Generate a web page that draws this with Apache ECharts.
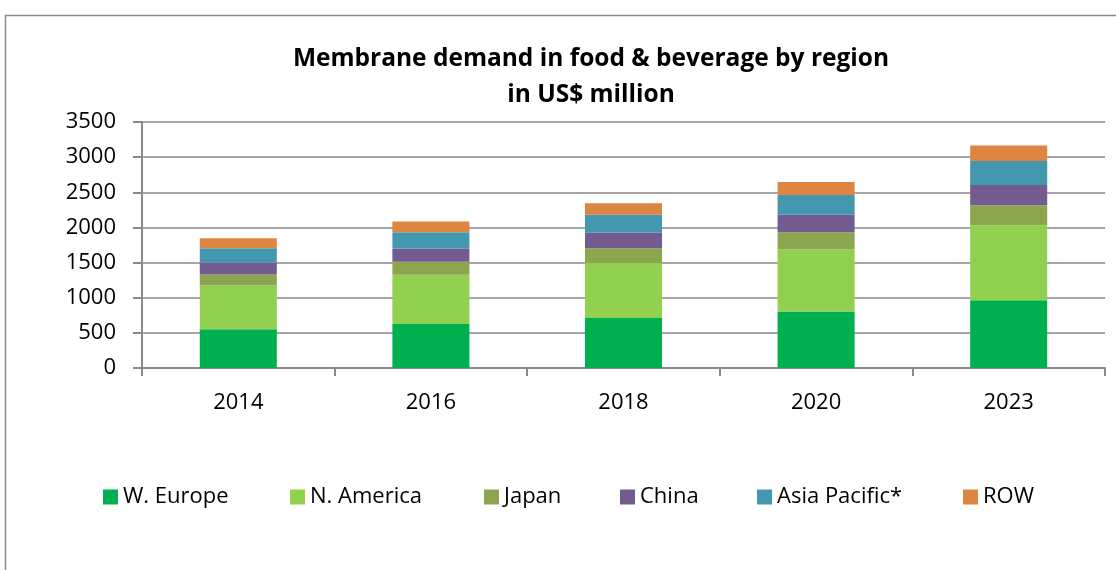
<!DOCTYPE html>
<html>
<head>
<meta charset="utf-8">
<script src="https://cdn.jsdelivr.net/npm/echarts@6/dist/echarts.min.js"></script>
<style>
  html, body { margin: 0; padding: 0; background: #fff; }
  #chart { width: 1116px; height: 570px; }
</style>
</head>
<body>
<div id="chart"></div>
<script>
// 数据
const years = ["2014", "2016", "2018", "2020", "2023"];
const regions = ["W. Europe", "N. America", "Japan", "China", "Asia Pacific*", "ROW"];
const wEurope = [550, 625, 710, 805, 965];
const nAmerica = [625, 700, 785, 885, 1065];
const japan = [155, 185, 210, 240, 285];
const china = [170, 190, 220, 250, 290];
const asiaPacific = [205, 230, 255, 280, 340];
const row = [140, 155, 165, 185, 220];

const values = [wEurope, nAmerica, japan, china, asiaPacific, row];
const colors = ["#00B050", "#92D050", "#8BA64E", "#735A8F", "#4398B0", "#DE8641"];
const legendLeft = [103, 290, 484, 620, 757, 963];

const font = "'Open Sans', 'Liberation Sans', sans-serif";
const gray = "#898989";

const options = {
  animation: false,
  textStyle: { fontFamily: font },
  graphic: [
    {
      type: "rect",
      shape: { x: 5.5, y: 15.5, width: 1200, height: 600 },
      style: { fill: "none", stroke: "#8c8c8c", lineWidth: 1.5 },
    },
  ],
  title: {
    text: "Membrane demand in food & beverage by region\nin US$ million",
    left: 586,
    top: 36,
    textAlign: "center",
    textStyle: {
      fontFamily: font,
      fontWeight: "bold",
      fontSize: 24.5,
      lineHeight: 36,
      color: "#000",
    },
  },
  legend: regions.map((name, i) => ({
    data: [name],
    left: legendLeft[i],
    top: 486,
    padding: 0,
    icon: "rect",
    itemWidth: 15,
    itemHeight: 15,
    itemGap: 0,
    textStyle: { fontFamily: font, fontSize: 22, color: "#000" },
  })),
  grid: {
    left: 142,
    right: 11,
    top: 122,
    bottom: 202,
    containLabel: false,
  },
  xAxis: {
    type: "category",
    data: years,
    axisLine: { lineStyle: { color: gray, width: 2 } },
    axisTick: { show: true, length: 8, lineStyle: { color: gray, width: 2 } },
    axisLabel: { fontSize: 22, color: "#000", margin: 24 },
  },
  yAxis: {
    type: "value",
    min: 0,
    max: 3500,
    interval: 500,
    axisLine: { show: true, lineStyle: { color: gray, width: 2 } },
    axisTick: { show: true, length: 9, lineStyle: { color: gray, width: 2 } },
    axisLabel: { fontSize: 22, color: "#000", margin: 26, formatter: (v) => String(v) },
    splitLine: { lineStyle: { color: gray, width: 1.5 } },
  },
  series: regions.map((name, i) => ({
    name: name,
    type: "bar",
    stack: "total",
    data: values[i],
    barWidth: "40%",
    itemStyle: { color: colors[i] },
  })),
};

const chart = echarts.init(document.getElementById("chart"));
chart.setOption(options);
</script>
</body>
</html>
